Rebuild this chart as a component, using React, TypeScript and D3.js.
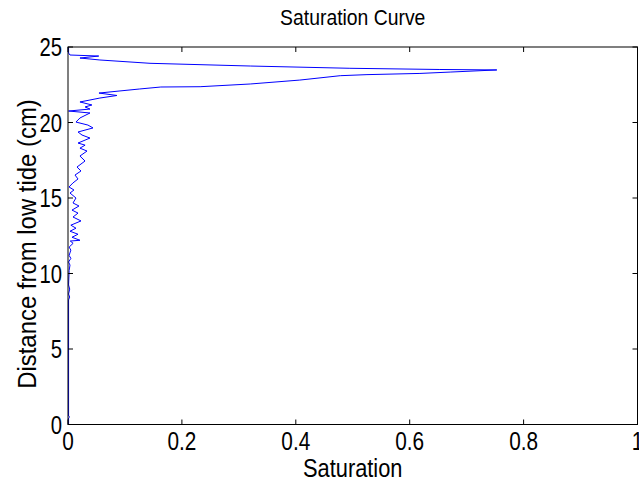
import React from "react";
import * as d3 from "d3";

const saturation: number[] = [
  0.001, 0.001, 0.003, 0.001, 0.001, 0.003, 0.001, 0.003, 0.001, 0.002,
  0.0035, 0.001, 0.005, 0.002, 0.005, 0.002, 0.009, 0.004, 0.021, 0.007,
  0.0176, 0.0035, 0.014, 0.005, 0.0228, 0.0088, 0.0176, 0.007, 0.0193, 0.0088,
  0.014, 0.0035, 0.0105, 0.0018, 0.0088, 0.0176, 0.0123, 0.0228, 0.0158, 0.0299,
  0.021, 0.0334, 0.021, 0.03, 0.0176, 0.0386, 0.0246, 0.0176, 0.0439, 0.035,
  0.014, 0.021, 0.0386, 0.001, 0.0386, 0.03, 0.042, 0.021, 0.0386, 0.056,
  0.0685, 0.086, 0.0544, 0.0913, 0.126, 0.163, 0.232, 0.32, 0.407, 0.478,
  0.525, 0.618, 0.671, 0.753, 0.653, 0.495, 0.32, 0.144, 0.056, 0.021,
  0.054, 0.0035, 0.001, 0.001,
];
const distance: number[] = [
  0, 0.43, 0.5, 0.56, 8.25, 8.44, 8.64, 8.97, 9.24, 10.2,
  10.56, 10.76, 11.0, 11.2, 11.55, 11.75, 12.0, 12.15, 12.2, 12.4,
  12.6, 12.8, 13.0, 13.2, 13.48, 13.74, 14.0, 14.2, 14.47, 14.67,
  15.0, 15.33, 15.53, 15.73, 16.0, 16.26, 16.52, 16.79, 17.05, 17.45,
  17.78, 18.11, 18.3, 18.5, 18.64, 18.97, 19.17, 19.37, 19.64, 19.83,
  20.03, 20.3, 20.63, 20.76, 20.89, 21.03, 21.16, 21.36, 21.49, 21.62,
  21.69, 21.79, 21.95, 22.09, 22.22, 22.35, 22.37, 22.55, 22.81, 23.1,
  23.17, 23.25, 23.34, 23.48, 23.51, 23.59, 23.74, 23.92, 24.14, 24.27,
  24.4, 24.47, 24.6, 25.0,
];
const xTicks: number[] = [0, 0.2, 0.4, 0.6, 0.8, 1];
const yTicks: number[] = [0, 5, 10, 15, 20, 25];
const title = "Saturation Curve";
const xLabel = "Saturation";
const yLabel = "Distance from low tide (cm)";

const W = 639;
const H = 484;
const left = 68;
const right = 637.5;
const top = 47;
const bottom = 424.5;
const tickLen = 5;
const font = "'Liberation Sans', Arial, sans-serif";

function sx(cx: number, k: number) {
  return `translate(${cx},0) scale(${k},1) translate(${-cx},0)`;
}

export default function App() {
  const x = d3.scaleLinear().domain([0, 1]).range([left, right]);
  const y = d3.scaleLinear().domain([0, 25]).range([bottom, top]);
  const pts = saturation.map((s, i) => [s, distance[i]] as [number, number]);
  const line = d3
    .line<[number, number]>()
    .x((d) => x(d[0]))
    .y((d) => y(d[1]));
  const cx = (left + right) / 2;

  return (
    <svg
      width={W}
      height={H}
      style={{ position: "absolute", left: 0, top: 0, background: "#fff" }}
    >
      <rect x={0} y={0} width={W} height={H} fill="#fff" />
      <path d={line(pts) || ""} fill="none" stroke="#0000ff" strokeWidth={1} />
      <rect
        x={left}
        y={top}
        width={right - left}
        height={bottom - top}
        fill="none"
        stroke="#000"
        strokeWidth={1}
      />
      {xTicks.map((t) => (
        <g key={"x" + t}>
          <line x1={x(t)} x2={x(t)} y1={bottom} y2={bottom - tickLen} stroke="#000" />
          <line x1={x(t)} x2={x(t)} y1={top} y2={top + tickLen} stroke="#000" />
          <text
            x={x(t)}
            y={450}
            textAnchor="middle"
            fontFamily={font}
            fontSize={26}
            fill="#000"
            transform={sx(x(t), 0.8)}
          >
            {String(t)}
          </text>
        </g>
      ))}
      {yTicks.map((t) => (
        <g key={"y" + t}>
          <line x1={left} x2={left + tickLen} y1={y(t)} y2={y(t)} stroke="#000" />
          <line x1={right} x2={right - tickLen} y1={y(t)} y2={y(t)} stroke="#000" />
          <text
            x={62}
            y={y(t) + 9.3}
            textAnchor="end"
            fontFamily={font}
            fontSize={26}
            fill="#000"
            transform={sx(62, 0.78)}
          >
            {String(t)}
          </text>
        </g>
      ))}
      <text
        x={cx}
        y={25}
        textAnchor="middle"
        fontFamily={font}
        fontSize={22}
        fill="#000"
        transform={sx(cx, 0.88)}
      >
        {title}
      </text>
      <text
        x={cx}
        y={477}
        textAnchor="middle"
        fontFamily={font}
        fontSize={26}
        fill="#000"
        transform={sx(cx, 0.84)}
      >
        {xLabel}
      </text>
      <text
        transform={`translate(36,244) rotate(-90) scale(0.92,1)`}
        textAnchor="middle"
        fontFamily={font}
        fontSize={26}
        fill="#000"
      >
        {yLabel}
      </text>
    </svg>
  );
}
